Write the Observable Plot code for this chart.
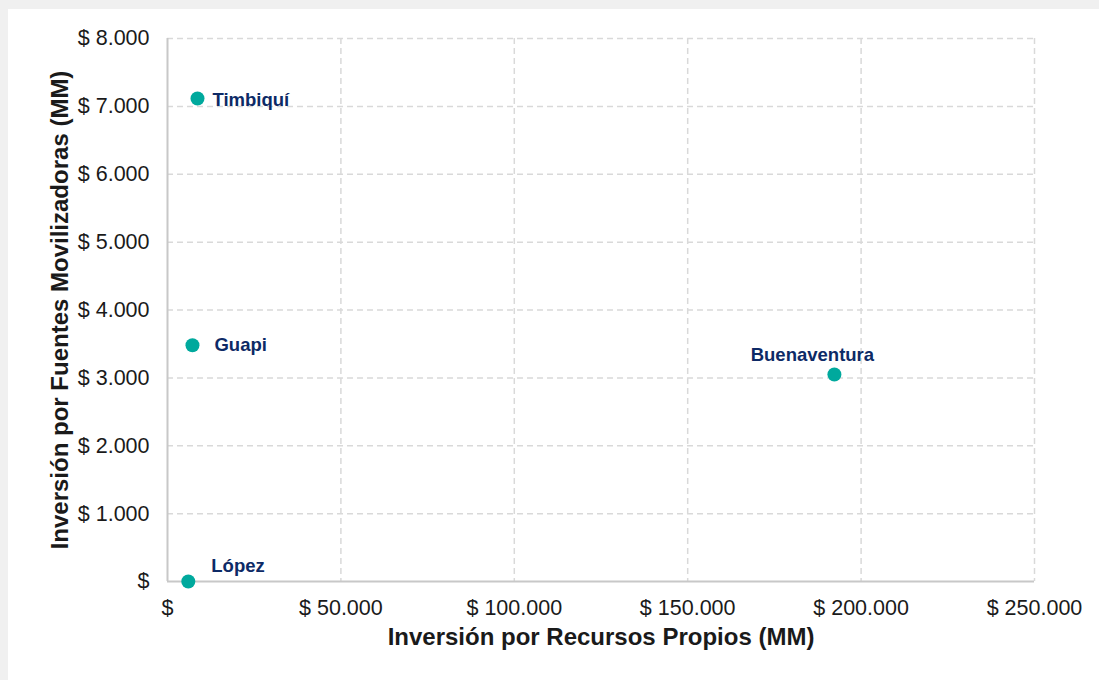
<!DOCTYPE html>
<html>
<head>
<meta charset="utf-8">
<script src="https://cdn.jsdelivr.net/npm/d3@7"></script>
<script src="https://cdn.jsdelivr.net/npm/@observablehq/plot@0.6"></script>
<style>
  html, body { margin: 0; padding: 0; background: #f0f0f0; width: 1099px; height: 680px; overflow: hidden; }
  #card { position: absolute; left: 8px; top: 9px; width: 1091px; height: 671px; background: #ffffff; }
  #chart { position: absolute; left: 0; top: 0; }
</style>
</head>
<body>
<div id="card"></div>
<div id="chart"></div>
<script>
// Data
const municipios = ["Timbiquí", "Guapi", "Buenaventura", "López"];
const recursosPropios = [8650, 7200, 192300, 6000];      // MM
const fuentesMovilizadoras = [7115, 3480, 3050, 0];      // MM
const xTicks = [0, 50000, 100000, 150000, 200000, 250000];
const yTicks = [0, 1000, 2000, 3000, 4000, 5000, 6000, 7000, 8000];
const xTitle = "Inversión por Recursos Propios (MM)";
const yTitle = "Inversión por Fuentes Movilizadoras (MM)";

const data = municipios.map((m, i) => ({ name: m, x: recursosPropios[i], y: fuentesMovilizadoras[i] }));
const labelPos = {
  "Timbiquí": { dx: 15, dy: 2, anchor: "start" },
  "Guapi": { dx: 22, dy: 0, anchor: "start" },
  "Buenaventura": { dx: -22, dy: -19, anchor: "middle" },
  "López": { dx: 23, dy: -15, anchor: "start" }
};

const fmt = v => v === 0 ? "$" : "$ " + d3.format(",")(v).replace(/,/g, ".");
const font = "'Liberation Sans', Arial, sans-serif";
const gridColor = "#d9d9d9";

const marks = [
  Plot.gridX(xTicks.filter(d => d > 0), { stroke: gridColor, strokeOpacity: 1, strokeWidth: 1.5, strokeDasharray: "6,4" }),
  Plot.gridY(yTicks.filter(d => d > 0), { stroke: gridColor, strokeOpacity: 1, strokeWidth: 1.5, strokeDasharray: "6,4" }),
  Plot.ruleX([0], { stroke: "#c8c8c8", strokeWidth: 2 }),
  Plot.ruleY([0], { stroke: "#c8c8c8", strokeWidth: 2 }),
  Plot.axisX(xTicks, { tickSize: 0, tickPadding: 18, tickFormat: fmt, label: null, fontSize: 21.5, fill: "#1a1a1a" }),
  Plot.axisY(yTicks, { tickSize: 0, tickPadding: 18, tickFormat: fmt, label: null, fontSize: 21.5, fill: "#1a1a1a" }),
  Plot.dot(data, { x: "x", y: "y", r: 7, fill: "#00a99d", stroke: "none" })
];
for (const d of data) {
  const p = labelPos[d.name];
  marks.push(Plot.text([d], { x: "x", y: "y", text: "name", dx: p.dx, dy: p.dy, textAnchor: p.anchor,
    fill: "#0d2a66", fontWeight: "bold", fontSize: 18.5 }));
}
marks.push(Plot.text([xTitle], { frameAnchor: "bottom", textAnchor: "middle", dy: 63, fill: "#1a1a1a", fontWeight: "bold", fontSize: 24 }));
marks.push(Plot.text([yTitle], { frameAnchor: "left", textAnchor: "middle", dx: -107, rotate: -90, fill: "#1a1a1a", fontWeight: "bold", fontSize: 24 }));

const chart = Plot.plot({
  width: 1099,
  height: 680,
  marginLeft: 167,
  marginRight: 65,
  marginTop: 38,
  marginBottom: 99,
  style: { background: "transparent", fontFamily: font, overflow: "visible" },
  x: { domain: [0, 250000] },
  y: { domain: [0, 8000] },
  marks
});
document.getElementById("chart").appendChild(chart);
</script>
</body>
</html>
